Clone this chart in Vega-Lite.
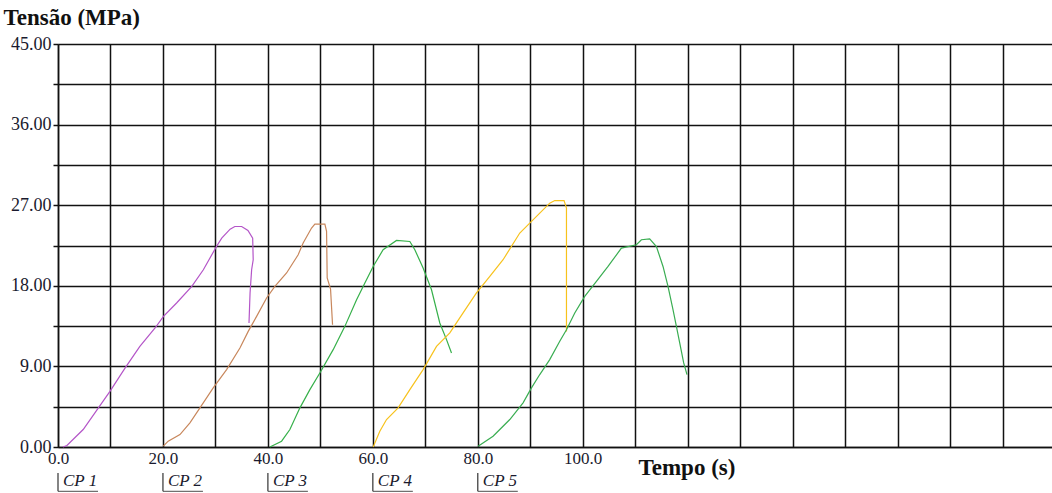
{
  "$schema": "https://vega.github.io/schema/vega-lite/v6.json",
  "width": 997,
  "height": 403,
  "autosize": {"type": "none"},
  "padding": {"left": 58, "top": 44, "right": 0, "bottom": 46},
  "background": "white",
  "config": {
    "view": {"stroke": null},
    "axis": {"labelFont": "Liberation Serif", "titleFont": "Liberation Serif"}
  },
  "datasets": {
    "curves": [
      {"cp": "CP 1", "t": 0.95, "s": 0},
      {"cp": "CP 1", "t": 1.7, "s": 0.17},
      {"cp": "CP 1", "t": 4.8, "s": 1.95},
      {"cp": "CP 1", "t": 7.7, "s": 4.37},
      {"cp": "CP 1", "t": 9.9, "s": 6.22},
      {"cp": "CP 1", "t": 12.8, "s": 8.83},
      {"cp": "CP 1", "t": 15.6, "s": 11.24},
      {"cp": "CP 1", "t": 18.5, "s": 13.29},
      {"cp": "CP 1", "t": 20.1, "s": 14.59},
      {"cp": "CP 1", "t": 22.6, "s": 16.08},
      {"cp": "CP 1", "t": 25.5, "s": 17.93},
      {"cp": "CP 1", "t": 27.7, "s": 19.79},
      {"cp": "CP 1", "t": 30.2, "s": 22.39},
      {"cp": "CP 1", "t": 31.2, "s": 23.33},
      {"cp": "CP 1", "t": 32.8, "s": 24.33},
      {"cp": "CP 1", "t": 33.7, "s": 24.62},
      {"cp": "CP 1", "t": 35.0, "s": 24.62},
      {"cp": "CP 1", "t": 36.2, "s": 24.18},
      {"cp": "CP 1", "t": 37.1, "s": 23.33},
      {"cp": "CP 1", "t": 37.2, "s": 20.91},
      {"cp": "CP 1", "t": 36.9, "s": 19.79},
      {"cp": "CP 1", "t": 36.6, "s": 17.2},
      {"cp": "CP 1", "t": 36.4, "s": 13.85},

      {"cp": "CP 2", "t": 20.06, "s": 0.09},
      {"cp": "CP 2", "t": 21.0, "s": 0.65},
      {"cp": "CP 2", "t": 23.24, "s": 1.39},
      {"cp": "CP 2", "t": 25.14, "s": 2.7},
      {"cp": "CP 2", "t": 27.05, "s": 4.37},
      {"cp": "CP 2", "t": 29.58, "s": 6.6},
      {"cp": "CP 2", "t": 32.13, "s": 8.64},
      {"cp": "CP 2", "t": 34.67, "s": 11.06},
      {"cp": "CP 2", "t": 36.25, "s": 12.91},
      {"cp": "CP 2", "t": 37.85, "s": 14.59},
      {"cp": "CP 2", "t": 39.75, "s": 16.64},
      {"cp": "CP 2", "t": 41.33, "s": 17.93},
      {"cp": "CP 2", "t": 43.56, "s": 19.43},
      {"cp": "CP 2", "t": 45.77, "s": 21.47},
      {"cp": "CP 2", "t": 46.72, "s": 22.77},
      {"cp": "CP 2", "t": 48.32, "s": 24.45},
      {"cp": "CP 2", "t": 48.95, "s": 24.89},
      {"cp": "CP 2", "t": 50.86, "s": 24.89},
      {"cp": "CP 2", "t": 51.18, "s": 24.07},
      {"cp": "CP 2", "t": 51.3, "s": 18.87},
      {"cp": "CP 2", "t": 51.94, "s": 17.64},
      {"cp": "CP 2", "t": 52.32, "s": 13.66},

      {"cp": "CP 3", "t": 40.38, "s": 0},
      {"cp": "CP 3", "t": 42.61, "s": 0.65},
      {"cp": "CP 3", "t": 44.19, "s": 1.95},
      {"cp": "CP 3", "t": 46.1, "s": 4.37},
      {"cp": "CP 3", "t": 48.0, "s": 6.41},
      {"cp": "CP 3", "t": 49.9, "s": 8.27},
      {"cp": "CP 3", "t": 52.44, "s": 10.87},
      {"cp": "CP 3", "t": 54.67, "s": 13.47},
      {"cp": "CP 3", "t": 56.9, "s": 16.45},
      {"cp": "CP 3", "t": 58.48, "s": 18.31},
      {"cp": "CP 3", "t": 60.06, "s": 20.16},
      {"cp": "CP 3", "t": 61.96, "s": 22.03},
      {"cp": "CP 3", "t": 64.51, "s": 23.06},
      {"cp": "CP 3", "t": 67.05, "s": 22.95},
      {"cp": "CP 3", "t": 68.0, "s": 22.03},
      {"cp": "CP 3", "t": 69.58, "s": 19.98},
      {"cp": "CP 3", "t": 71.18, "s": 17.56},
      {"cp": "CP 3", "t": 72.76, "s": 13.85},
      {"cp": "CP 3", "t": 74.04, "s": 11.99},
      {"cp": "CP 3", "t": 74.99, "s": 10.5},

      {"cp": "CP 4", "t": 60.06, "s": 0},
      {"cp": "CP 4", "t": 61.33, "s": 1.76},
      {"cp": "CP 4", "t": 62.61, "s": 3.07},
      {"cp": "CP 4", "t": 64.82, "s": 4.37},
      {"cp": "CP 4", "t": 67.05, "s": 6.41},
      {"cp": "CP 4", "t": 69.58, "s": 8.64},
      {"cp": "CP 4", "t": 72.13, "s": 11.24},
      {"cp": "CP 4", "t": 74.67, "s": 12.74},
      {"cp": "CP 4", "t": 77.2, "s": 14.97},
      {"cp": "CP 4", "t": 79.75, "s": 17.2},
      {"cp": "CP 4", "t": 82.29, "s": 19.05},
      {"cp": "CP 4", "t": 84.82, "s": 20.91},
      {"cp": "CP 4", "t": 88.0, "s": 23.89},
      {"cp": "CP 4", "t": 89.9, "s": 25.0},
      {"cp": "CP 4", "t": 91.81, "s": 26.12},
      {"cp": "CP 4", "t": 93.71, "s": 27.23},
      {"cp": "CP 4", "t": 94.67, "s": 27.52},
      {"cp": "CP 4", "t": 96.44, "s": 27.52},
      {"cp": "CP 4", "t": 96.9, "s": 26.68},
      {"cp": "CP 4", "t": 96.9, "s": 12.91},

      {"cp": "CP 5", "t": 80.06, "s": 0.09},
      {"cp": "CP 5", "t": 82.91, "s": 1.2},
      {"cp": "CP 5", "t": 86.1, "s": 3.07},
      {"cp": "CP 5", "t": 88.63, "s": 4.93},
      {"cp": "CP 5", "t": 90.23, "s": 6.6},
      {"cp": "CP 5", "t": 91.81, "s": 8.09},
      {"cp": "CP 5", "t": 93.71, "s": 9.76},
      {"cp": "CP 5", "t": 95.62, "s": 11.8},
      {"cp": "CP 5", "t": 96.9, "s": 13.1},
      {"cp": "CP 5", "t": 98.48, "s": 14.97},
      {"cp": "CP 5", "t": 100.38, "s": 16.82},
      {"cp": "CP 5", "t": 102.61, "s": 18.5},
      {"cp": "CP 5", "t": 104.82, "s": 20.16},
      {"cp": "CP 5", "t": 107.37, "s": 22.21},
      {"cp": "CP 5", "t": 110.23, "s": 22.58},
      {"cp": "CP 5", "t": 111.18, "s": 23.14},
      {"cp": "CP 5", "t": 112.76, "s": 23.25},
      {"cp": "CP 5", "t": 114.04, "s": 22.39},
      {"cp": "CP 5", "t": 115.3, "s": 20.16},
      {"cp": "CP 5", "t": 116.25, "s": 17.93},
      {"cp": "CP 5", "t": 117.2, "s": 15.33},
      {"cp": "CP 5", "t": 117.85, "s": 13.47},
      {"cp": "CP 5", "t": 118.48, "s": 11.62},
      {"cp": "CP 5", "t": 119.24, "s": 9.39},
      {"cp": "CP 5", "t": 119.87, "s": 8.09}
    ],
    "labels": [
      {"cp": "CP 1", "t": 0},
      {"cp": "CP 2", "t": 20},
      {"cp": "CP 3", "t": 40},
      {"cp": "CP 4", "t": 60},
      {"cp": "CP 5", "t": 80}
    ]
  },
  "encoding": {
    "x": {
      "field": "t", "type": "quantitative",
      "scale": {"domain": [0, 190], "nice": false, "zero": false},
      "axis": {
        "values": [0,10,20,30,40,50,60,70,80,90,100,110,120,130,140,150,160,170,180,190],
        "labelExpr": "(datum.value % 20 === 0 && datum.value <= 100) ? format(datum.value, '.1f') : ''",
        "labelOverlap": false,
        "labelFlush": false,
        "labelFontSize": 17,
        "labelColor": "#1a1a2e",
        "labelPadding": 3,
        "ticks": false,
        "domain": true,
        "domainColor": "#111",
        "domainWidth": 1.5,
        "grid": true,
        "gridColor": "#111",
        "gridWidth": 1.5,
        "gridOpacity": 1,
        "title": "Tempo (s)",
        "titleFontSize": 23,
        "titleFontWeight": "bold",
        "titleColor": "#111",
        "titleX": 580,
        "titleY": 20,
        "titleAlign": "left",
        "titleBaseline": "middle"
      }
    }
  },
  "layer": [
    {
      "data": {"name": "curves"},
      "mark": {"type": "line", "strokeWidth": 1.2, "interpolate": "linear"},
      "encoding": {
        "y": {
          "field": "s", "type": "quantitative",
          "scale": {"domain": [0, 45], "nice": false},
          "axis": {
            "values": [0,4.5,9,13.5,18,22.5,27,31.5,36,40.5,45],
            "labelExpr": "datum.value % 9 === 0 ? format(datum.value, '.2f') : ''",
            "labelOverlap": false,
            "labelFlush": false,
            "labelFontSize": 18,
            "labelColor": "#1a1a2e",
            "labelPadding": 2,
            "ticks": true,
            "tickSize": 5,
            "tickColor": "#111",
            "tickWidth": 1.5,
            "domain": true,
            "domainColor": "#111",
            "domainWidth": 1.5,
            "grid": true,
            "gridColor": "#111",
            "gridWidth": 1.5,
            "gridOpacity": 1,
            "title": "Tensão (MPa)",
            "titleFontSize": 23,
            "titleFontWeight": "bold",
            "titleColor": "#111",
            "titleAngle": 0,
            "titleX": -55,
            "titleY": -27,
            "titleAlign": "left",
            "titleBaseline": "middle"
          }
        },
        "color": {
          "field": "cp", "type": "nominal",
          "scale": {"domain": ["CP 1", "CP 2", "CP 3", "CP 4", "CP 5"],
                    "range": ["#b455c8", "#c8875c", "#36b04a", "#f7c21c", "#3aad52"]},
          "legend": null
        },
        "order": {"value": null}
      }
    },
    {
      "data": {"name": "labels"},
      "mark": {"type": "text", "align": "left", "baseline": "middle", "dx": 5,
               "font": "Liberation Serif", "fontStyle": "italic", "fontSize": 17, "color": "#1a1a2e"},
      "encoding": {
        "y": {"datum": -3.85, "type": "quantitative"},
        "text": {"field": "cp"}
      }
    },
    {
      "data": {"name": "labels"},
      "mark": {"type": "rule", "color": "#333", "strokeWidth": 1.2},
      "encoding": {
        "y": {"datum": -2.9, "type": "quantitative"},
        "y2": {"datum": -4.95}
      }
    },
    {
      "data": {"name": "labels"},
      "mark": {"type": "tick", "orient": "horizontal", "color": "#333", "size": 40, "thickness": 1.2, "xOffset": 20},
      "encoding": {
        "y": {"datum": -4.95, "type": "quantitative"}
      }
    }
  ]
}
